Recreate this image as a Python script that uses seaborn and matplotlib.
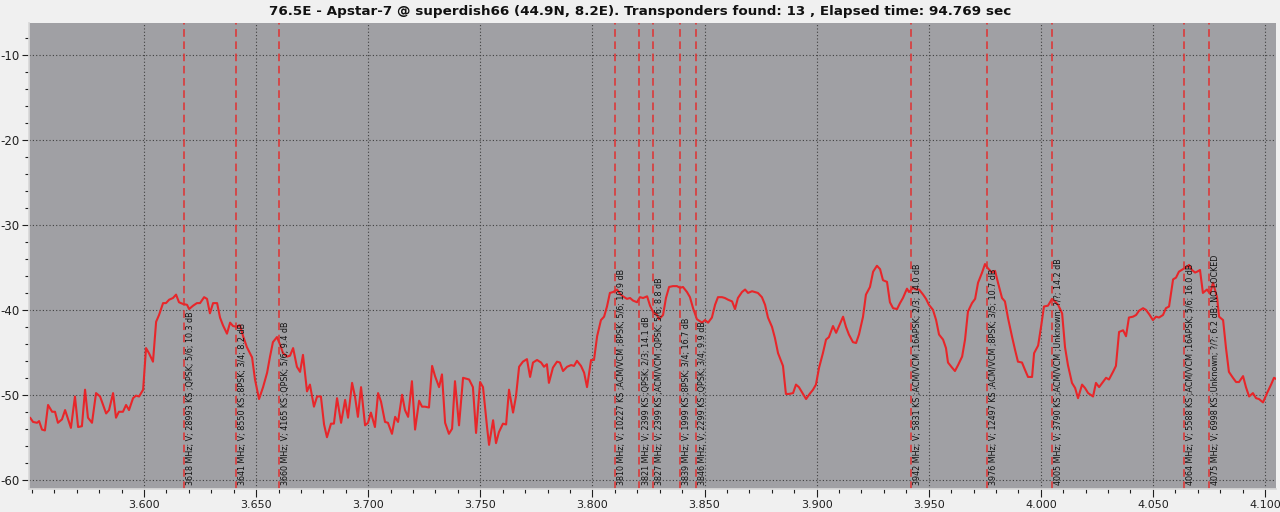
import numpy as np
import pandas as pd
import matplotlib
matplotlib.use("Agg")
import matplotlib.pyplot as plt
import matplotlib.ticker as mtick
import matplotlib.transforms as mtrans
import seaborn as sns

# spectrum sweep (GHz, dB)
freq_ghz = [
    3.5492, 3.5505, 3.5523, 3.5532, 3.5545, 3.5558, 3.5572, 3.5590, 3.5603, 3.5616,
    3.5634, 3.5648, 3.5674, 3.5692, 3.5706, 3.5723, 3.5737, 3.5750, 3.5768, 3.5786,
    3.5804, 3.5831, 3.5844, 3.5862, 3.5875, 3.5888, 3.5906, 3.5920, 3.5933, 3.5951,
    3.5964, 3.5978, 3.5996, 3.6009, 3.6022, 3.6040, 3.6054, 3.6067, 3.6085, 3.6098,
    3.6112, 3.6129, 3.6143, 3.6156, 3.6174, 3.6192, 3.6201, 3.6219, 3.6236, 3.6250,
    3.6268, 3.6281, 3.6294, 3.6308, 3.6326, 3.6339, 3.6352, 3.6370, 3.6384, 3.6397,
    3.6415, 3.6428, 3.6442, 3.6459, 3.6482, 3.6495, 3.6513, 3.6531, 3.6549, 3.6562,
    3.6575, 3.6593, 3.6607, 3.6620, 3.6638, 3.6651, 3.6665, 3.6682, 3.6696, 3.6709,
    3.6727, 3.6740, 3.6758, 3.6772,
    3.6789, 3.6803, 3.6816, 3.6834, 3.6847, 3.6861, 3.6879, 3.6897, 3.6910, 3.6928,
    3.6941, 3.6954, 3.6968, 3.6986, 3.6999, 3.7012, 3.7030, 3.7044, 3.7057, 3.7075,
    3.7088, 3.7106, 3.7120, 3.7133, 3.7151, 3.7164, 3.7178, 3.7195, 3.7209, 3.7227,
    3.7240, 3.7253, 3.7271, 3.7285, 3.7298, 3.7316, 3.7329, 3.7343, 3.7360, 3.7374,
    3.7387, 3.7405, 3.7423, 3.7436, 3.7450, 3.7467, 3.7481, 3.7499, 3.7512, 3.7530,
    3.7539, 3.7557, 3.7570, 3.7583, 3.7601, 3.7615, 3.7628, 3.7646, 3.7659, 3.7673,
    3.7690, 3.7708, 3.7722, 3.7735, 3.7753, 3.7771, 3.7784, 3.7797, 3.7806, 3.7824,
    3.7842, 3.7855, 3.7869, 3.7887, 3.7905, 3.7918, 3.7931, 3.7949, 3.7963, 3.7976,
    3.7994, 3.8007, 3.8021,
    3.8038, 3.8052, 3.8065, 3.8078, 3.8092, 3.8110, 3.8123, 3.8136, 3.8154, 3.8168,
    3.8181, 3.8199, 3.8212, 3.8226, 3.8244, 3.8257, 3.8270, 3.8288, 3.8297, 3.8315,
    3.8328, 3.8342, 3.8359, 3.8377, 3.8391, 3.8404, 3.8422, 3.8435,
    3.8449, 3.8466, 3.8489, 3.8502, 3.8516, 3.8533, 3.8547, 3.8560, 3.8578, 3.8591,
    3.8605, 3.8623, 3.8636, 3.8649, 3.8667, 3.8681, 3.8694, 3.8712, 3.8725, 3.8738,
    3.8756, 3.8770, 3.8783, 3.8801, 3.8814, 3.8828, 3.8850, 3.8863, 3.8877, 3.8895,
    3.8908, 3.8921, 3.8939, 3.8953, 3.8966, 3.8984, 3.8997, 3.9011, 3.9028, 3.9042,
    3.9055, 3.9073, 3.9087, 3.9100, 3.9118, 3.9131, 3.9144, 3.9162, 3.9176, 3.9189,
    3.9207, 3.9220, 3.9238, 3.9252, 3.9269, 3.9283, 3.9296, 3.9314, 3.9327, 3.9341,
    3.9359, 3.9372, 3.9385, 3.9403, 3.9412, 3.9430, 3.9443, 3.9457, 3.9475, 3.9488,
    3.9501, 3.9519, 3.9533, 3.9546, 3.9564, 3.9577, 3.9586, 3.9604, 3.9617, 3.9631,
    3.9649, 3.9662, 3.9675, 3.9693, 3.9707, 3.9720, 3.9738, 3.9751, 3.9764, 3.9782,
    3.9796, 3.9809, 3.9827, 3.9840,
    3.9854, 3.9872, 3.9885, 3.9898, 3.9916, 3.9930, 3.9943, 3.9961, 3.9970, 3.9988,
    4.0001, 4.0014, 4.0032, 4.0050, 4.0063, 4.0077, 4.0095, 4.0108, 4.0121, 4.0139,
    4.0153, 4.0166, 4.0184, 4.0197, 4.0211, 4.0233, 4.0246, 4.0260, 4.0277, 4.0291,
    4.0304, 4.0322, 4.0335, 4.0349, 4.0367, 4.0380, 4.0393, 4.0411, 4.0425, 4.0438,
    4.0456, 4.0469, 4.0483, 4.0500, 4.0514, 4.0527, 4.0545, 4.0558, 4.0572, 4.0590,
    4.0603, 4.0616, 4.0634, 4.0648, 4.0661, 4.0674, 4.0688, 4.0697, 4.0710, 4.0723,
    4.0741, 4.0755, 4.0768, 4.0786, 4.0795, 4.0813, 4.0826, 4.0839, 4.0857, 4.0871,
    4.0884, 4.0902, 4.0915, 4.0929, 4.0946, 4.0960, 4.0973, 4.0991, 4.1009, 4.1027,
    4.1040, 4.1054,
]
level_db = [
    -52.7, -53.2, -53.3, -53.1, -54.1, -54.2, -51.2, -52.0, -52.0, -53.3,
    -52.9, -51.8, -53.9, -50.2, -53.8, -53.7, -49.4, -52.7, -53.3, -49.8,
    -50.2, -52.2, -51.8, -49.8, -52.7, -52.0, -52.0, -51.2, -51.8, -50.4,
    -50.1, -50.2, -49.4, -44.5, -45.1, -46.1, -41.4, -40.6, -39.2, -39.2,
    -38.8, -38.6, -38.2, -39.1, -39.3, -39.4, -39.9, -39.5, -39.2, -39.2,
    -38.5, -38.7, -40.4, -39.2, -39.2, -40.9, -41.8, -42.8, -41.5, -41.9,
    -42.0, -41.8, -43.1, -44.4, -45.6, -48.2, -50.5, -49.1, -47.4, -45.5,
    -43.8, -43.2, -44.1, -45.1, -45.5, -45.4, -44.5, -46.7, -47.3, -45.3,
    -49.6, -48.8, -51.4, -50.2,
    -50.2, -53.5, -55.0, -53.4, -53.4, -50.4, -53.3, -50.6, -52.7, -48.6,
    -50.2, -52.6, -49.1, -53.6, -53.3, -52.1, -53.8, -49.8, -50.8, -53.2,
    -53.3, -54.6, -52.6, -53.2, -50.0, -51.8, -52.6, -48.4, -54.1, -50.7,
    -51.4, -51.4, -51.5, -46.6, -47.8, -49.1, -47.6, -53.3, -54.6, -54.0,
    -48.4, -53.6, -48.0, -48.1, -48.2, -49.1, -54.5, -48.5, -49.1, -53.8,
    -55.9, -53.0, -55.7, -54.4, -53.4, -53.5, -49.4, -52.1, -50.2, -46.7,
    -46.1, -45.8, -47.9, -46.2, -45.9, -46.2, -46.7, -46.4, -48.6, -46.8,
    -46.1, -46.2, -47.2, -46.7, -46.5, -46.6, -46.0, -46.6, -47.4, -49.1,
    -45.9, -45.9, -43.1,
    -41.2, -40.8, -39.6, -38.0, -37.9, -37.6, -38.1, -38.4, -38.7, -38.6,
    -38.9, -39.1, -38.5, -38.6, -38.4, -39.5, -40.2, -40.6, -41.1, -40.6,
    -38.6, -37.3, -37.2, -37.2, -37.4, -37.3, -37.9, -38.5,
    -39.8, -41.1, -41.5, -41.2, -41.5, -40.9, -39.4, -38.5, -38.5, -38.6,
    -38.8, -39.0, -39.9, -38.6, -37.9, -37.6, -38.0, -37.8, -37.9, -38.0,
    -38.5, -39.4, -40.9, -42.0, -43.3, -45.1, -46.6, -49.9, -49.9, -49.8,
    -48.8, -49.1, -49.9, -50.5, -50.0, -49.4, -48.8, -46.8, -45.1, -43.5,
    -43.2, -41.9, -42.7, -41.9, -40.8, -42.0, -42.9, -43.8, -43.9, -42.9,
    -40.8, -38.2, -37.3, -35.5, -34.8, -35.2, -36.5, -36.7, -39.1, -39.8,
    -39.9, -39.2, -38.6, -37.5, -37.9, -37.4, -37.6, -37.6, -38.2, -38.7,
    -39.4, -40.0, -41.2, -42.9, -43.5, -44.5, -46.2, -46.8, -47.2, -46.5,
    -45.5, -43.5, -40.2, -39.2, -38.7, -36.8, -35.6, -34.6, -35.1, -35.6,
    -35.4, -36.8, -38.6, -39.0,
    -41.0, -43.2, -44.7, -46.1, -46.2, -47.1, -47.9, -47.9, -45.1, -44.2,
    -42.0, -39.6, -39.5, -38.7, -39.0, -39.4, -40.4, -44.4, -46.5, -48.6,
    -49.2, -50.4, -48.8, -49.2, -49.8, -50.2, -48.6, -49.1, -48.5, -48.0,
    -48.2, -47.3, -46.6, -42.6, -42.4, -43.1, -40.9, -40.8, -40.6, -40.1,
    -39.8, -40.0, -40.5, -41.2, -40.8, -40.9, -40.6, -39.8, -39.6, -36.4,
    -36.2, -35.5, -35.2, -35.0, -34.7, -35.3, -35.6, -35.5, -35.3, -38.0,
    -37.6, -38.1, -36.8, -38.5, -40.8, -41.2, -44.5, -47.3, -48.0, -48.5,
    -48.5, -47.8, -49.1, -50.2, -49.8, -50.4, -50.5, -50.9, -49.8, -48.8,
    -48.0, -48.2,
]

# transponders found
tp_mhz = [3618, 3641, 3660, 3810, 3821, 3827, 3839, 3846, 3942, 3976, 4005, 4064, 4075]
tp_labels = [
    "3618 MHz; V; 28993 KS ;QPSK; 5/6; 10.3 dB",
    "3641 MHz; V; 8550 KS ;8PSK; 3/4; 8.2 dB",
    "3660 MHz; V; 4165 KS ;QPSK; 5/6; 9.4 dB",
    "3810 MHz; V; 10227 KS ;ACM/VCM ;8PSK; 5/6; 10.9 dB",
    "3821 MHz; V; 2399 KS ;QPSK; 2/3; 14.1 dB",
    "3827 MHz; V; 2399 KS ;ACM/VCM ;QPSK; 5/6; 8.8 dB",
    "3839 MHz; V; 1999 KS ;8PSK; 3/4; 16.7 dB",
    "3846 MHz; V; 2299 KS ;QPSK; 3/4; 9.9 dB",
    "3942 MHz; V; 5831 KS ;ACM/VCM ;16APSK; 2/3; 14.0 dB",
    "3976 MHz; V; 12497 KS ;ACM/VCM ;8PSK; 3/5; 10.7 dB",
    "4005 MHz; V; 3790 KS ;ACM/VCM ;Unknown; ?/?; 14.2 dB",
    "4064 MHz; V; 5588 KS ;ACM/VCM ;16APSK; 5/6; 16.0 dB",
    "4075 MHz; V; 6998 KS ;Unknown; ?/?; 6.2 dB; NO LOCKED",
]
x_ticks = [3.600, 3.650, 3.700, 3.750, 3.800, 3.850, 3.900, 3.950, 4.000, 4.050, 4.100]

title = ("76.5E - Apstar-7 @ superdish66 (44.9N, 8.2E). "
         "Transponders found: 13 , Elapsed time: 94.769 sec")

df = pd.DataFrame({'freq': freq_ghz, 'level': level_db})

sns.set_theme(style="ticks")
plt.rcParams['font.family'] = ['DejaVu Sans']
plt.rcParams['axes.unicode_minus'] = False

fig = plt.figure(figsize=(12.8, 5.12), dpi=100, facecolor='#f0f0f0')
ax = fig.add_axes([29/1280, 1 - 489/512, (1276 - 29)/1280, (489 - 23)/512])
ax.set_facecolor('#a0a0a4')

sns.lineplot(x='freq', y='level', data=df, color='#e8262a', linewidth=1.5, ax=ax)

# dashed markers + vertical labels
off = mtrans.offset_copy(ax.transData, fig=fig, x=1.5, y=0, units='points')
for f, lab in zip(tp_mhz, tp_labels):
    ax.axvline(f / 1000, color='#e03030', linestyle=(0, (5, 3)), linewidth=1.1)
    ax.text(f / 1000, -60.6, lab, rotation=90, rotation_mode='anchor',
            ha='left', va='top', fontsize=5.8, color='#111111', transform=off)

ax.set_xlim(3.5487, 4.1049)
ax.set_ylim(-61.1, -6.2)
ax.set_xticks(x_ticks)
ax.xaxis.set_minor_locator(mtick.MultipleLocator(0.01))
ax.xaxis.set_major_formatter(mtick.FormatStrFormatter('%.3f'))
ax.yaxis.set_major_locator(mtick.MultipleLocator(10))
ax.yaxis.set_minor_locator(mtick.MultipleLocator(2))
ax.grid(True, which='major', color='#404040', linestyle=(0, (1, 2)), linewidth=0.8)
ax.tick_params(axis='x', which='major', length=6, width=0.8, labelsize=8,
               colors='#202020', direction='out', pad=2)
ax.tick_params(axis='y', which='major', length=5, width=0.8, labelsize=8.5,
               colors='#202020', direction='out', pad=2)
ax.tick_params(axis='both', which='minor', length=3, width=0.8, colors='#202020',
               direction='out')
for s in ['top', 'right']:
    ax.spines[s].set_visible(False)
for s in ['left', 'bottom']:
    ax.spines[s].set_color('#d8d8d8')
ax.set_xlabel('')
ax.set_ylabel('')

fig.text(0.5, 1 - 11/512, title, ha='center', va='center', fontsize=9.7,
         fontweight='bold', color='#111111')

fig.savefig('out.png', dpi=100, facecolor=fig.get_facecolor())
